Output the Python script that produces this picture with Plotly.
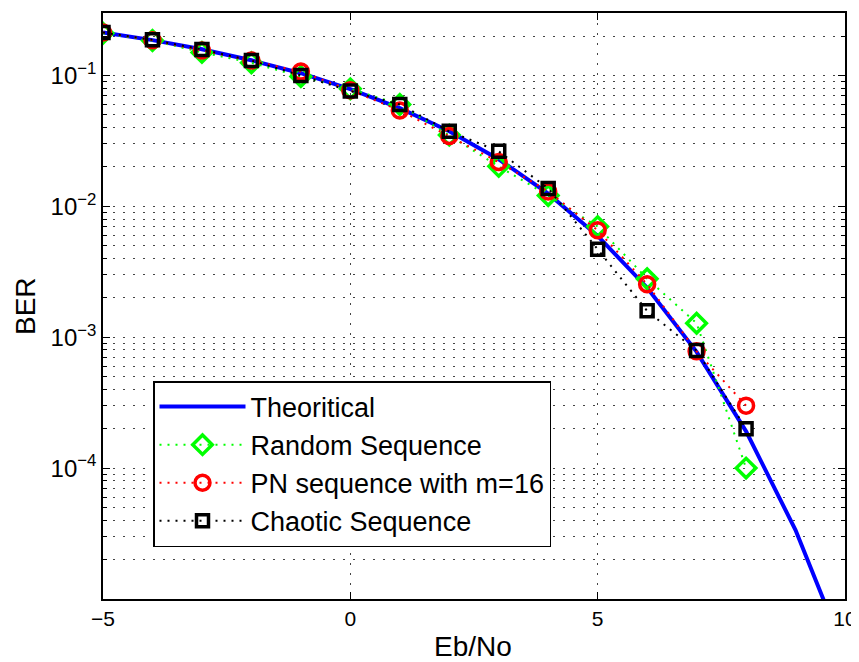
import plotly.graph_objects as go

ebno = [-5, -4, -3, -2, -1, 0, 1, 2, 3, 4, 5, 6, 7, 8, 9, 10]
ber_theory = [0.2132, 0.1861, 0.1584, 0.1306, 0.1040, 0.0786, 0.0563, 0.0375,
              0.0229, 0.0125, 0.00595, 0.00239, 0.000773, 0.000191, 3.36e-5, 3.87e-6]

ebno_sim = [-5, -4, -3, -2, -1, 0, 1, 2, 3, 4, 5, 6, 7, 8]
ber_random = [0.21, 0.185, 0.15, 0.125, 0.098, 0.079, 0.060, 0.035, 0.0202, 0.0121,
              0.0070, 0.0028, 0.00128, 0.0001]
ber_pn = [0.213, 0.186, 0.155, 0.130, 0.107, 0.077, 0.054, 0.0345, 0.0218, 0.0130,
          0.00656, 0.00254, 0.00078, 0.0003]
ber_chaotic = [0.213, 0.187, 0.158, 0.130, 0.100, 0.076, 0.060, 0.0374, 0.0263, 0.0137,
               0.0047, 0.00159, 0.00079, 0.0002]

y_tickvals = [1e-4, 1e-3, 1e-2, 1e-1]
y_ticktext = ["10<sup>\u22124</sup>", "10<sup>\u22123</sup>", "10<sup>\u22122</sup>", "10<sup>\u22121</sup>"]
x_tickvals = [-5, 0, 5, 10]
x_ticktext = ["\u22125", "0", "5", "10"]

FONT = "Liberation Sans, Arial, Helvetica, sans-serif"
GRID_DASH = "2px,8px"

# page body has an 8px default margin: the figure is offset by 8px
OFF = 8
W, H = 859 - OFF, 662 - OFF
L, T = 103 - OFF, 13 - OFF
R, B = 14, 63
PW, PH = W - L - R, H - T - B


def px_x(px):
    return (px - OFF - L) / PW


def px_y(py):
    return (H - B - (py - OFF)) / PH


minor_y = [m * 10 ** e for e in range(-5, 0) for m in range(2, 10)] + [0.2]

fig = go.Figure()
fig.add_trace(go.Scatter(x=ebno, y=ber_theory, mode="lines", name="Theoritical",
                         line=dict(color="#0000ff", width=4)))
fig.add_trace(go.Scatter(x=ebno_sim, y=ber_random, mode="lines+markers", name="Random Sequence",
                         line=dict(color="#00ff00", width=2, dash="2px,6px"),
                         marker=dict(symbol="diamond-open", size=15, color="#00ff00",
                                     line=dict(width=3.5, color="#00ff00"))))
fig.add_trace(go.Scatter(x=ebno_sim, y=ber_pn, mode="lines+markers", name="PN sequence with m=16",
                         line=dict(color="#ff0000", width=2, dash="2px,6px"),
                         marker=dict(symbol="circle-open", size=15, color="#ff0000",
                                     line=dict(width=3.5, color="#ff0000"))))
fig.add_trace(go.Scatter(x=ebno_sim, y=ber_chaotic, mode="lines+markers", name="Chaotic Sequence",
                         line=dict(color="#000000", width=2, dash="2px,6px"),
                         marker=dict(symbol="square-open", size=12, color="#000000",
                                     line=dict(width=3.5, color="#000000"))))

fig.update_layout(
    width=W, height=H,
    margin=dict(l=L, r=R, t=T, b=B, autoexpand=False),
    paper_bgcolor="white", plot_bgcolor="white",
    font=dict(family=FONT, color="black"),
    showlegend=True,
    legend=dict(x=px_x(153), y=px_y(381), xanchor="left", yanchor="top",
                bgcolor="white", bordercolor="black", borderwidth=1.5,
                font=dict(size=27, family=FONT), itemwidth=86, tracegroupgap=0),
    xaxis=dict(range=[-5, 10], tickvals=x_tickvals, ticktext=x_ticktext, automargin=False,
               ticks="inside", ticklen=7, tickwidth=1, tickcolor="black",
               showline=True, linecolor="black", linewidth=1.5, mirror="ticks",
               showgrid=True, gridcolor="#444444", gridwidth=1, griddash=GRID_DASH,
               zeroline=False, tickfont=dict(size=21)),
    yaxis=dict(type="log", range=[-5, -0.5229], tickvals=y_tickvals, ticktext=y_ticktext,
               automargin=False,
               ticks="inside", ticklen=7, tickwidth=1, tickcolor="black",
               showline=True, linecolor="black", linewidth=1.5, mirror="ticks",
               showgrid=True, gridcolor="#444444", gridwidth=1, griddash=GRID_DASH,
               zeroline=False, tickfont=dict(size=24),
               minor=dict(tickvals=minor_y, ticks="inside", ticklen=4, tickcolor="black",
                          showgrid=True, gridcolor="#444444", gridwidth=1, griddash=GRID_DASH)),
    annotations=[
        dict(text="BER", xref="paper", yref="paper", x=px_x(25), y=px_y(306),
             xanchor="center", yanchor="middle", textangle=-90, showarrow=False,
             font=dict(size=28, family=FONT)),
        dict(text="Eb/No", xref="paper", yref="paper", x=px_x(473), y=px_y(647),
             xanchor="center", yanchor="middle", showarrow=False,
             font=dict(size=28, family=FONT)),
    ],
)

fig.write_html("out.html")
